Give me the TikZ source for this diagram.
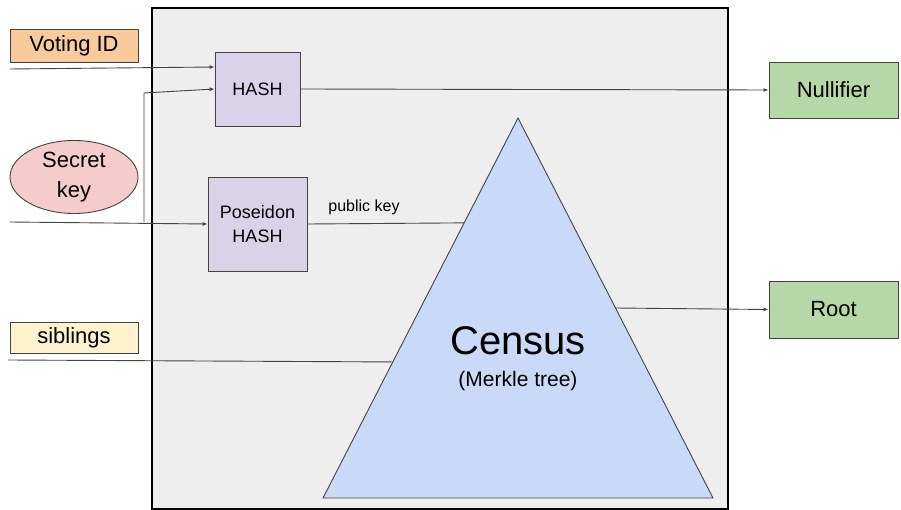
\documentclass[tikz,border=0pt]{standalone}
\usepackage{fontspec}
\setmainfont{Liberation Sans}
\usetikzlibrary{shapes.geometric,arrows.meta,calc}
\definecolor{panel}{HTML}{EEEEEE}
\definecolor{orangefill}{HTML}{F9CB9C}
\definecolor{pinkfill}{HTML}{F4CCCC}
\definecolor{yellowfill}{HTML}{FFF2CC}
\definecolor{violetfill}{HTML}{D9D2E9}
\definecolor{greenfill}{HTML}{B6D7A8}
\definecolor{bluefill}{HTML}{C9DAF8}
\definecolor{edge}{HTML}{434343}
\tikzset{
  box/.style={draw=edge, line width=0.9pt, inner sep=0pt, align=center, font=\fontsize{22}{30}\selectfont},
  hashbox/.style={box, fill=violetfill, font=\fontsize{18}{24}\selectfont},
  wire/.style={draw=edge, line width=0.9pt},
  arr/.style={wire, -{Latex[length=5pt,width=4pt]}}
}
\begin{document}
\begin{tikzpicture}[x=1pt,y=-1pt]
\useasboundingbox (0,0) rectangle (901,510);
% circuit panel
\draw[fill=panel, line width=1.8pt] (152,8) rectangle (728,509);

% inputs
\node[box, fill=orangefill, minimum width=128pt, minimum height=33pt] (vid) at (74,46) {Voting ID};
\node[box, fill=pinkfill, ellipse, minimum width=128pt, minimum height=73pt] (sk) at (74,177) {Secret\\key};
\node[box, fill=yellowfill, minimum width=128pt, minimum height=31pt] (sib) at (74,337.5) {siblings};

% hash blocks
\node[hashbox, minimum width=85pt, minimum height=74pt] (hash) at (257.5,89) {HASH};
\node[hashbox, minimum width=99pt, minimum height=94pt] (pos) at (257.5,224) {Poseidon\\HASH};

% outputs
\node[box, fill=greenfill, minimum width=129pt, minimum height=56pt] (null) at (833.5,90) {Nullifier};
\node[box, fill=greenfill, minimum width=129pt, minimum height=57pt] (root) at (833.5,309.5) {Root};

% census tree
\coordinate (apex) at (518,118);
\coordinate (bl) at (323,498);
\coordinate (br) at (713,498);
\draw[fill=bluefill, draw=edge, line width=0.9pt] (apex) -- (bl) -- (br) -- cycle;
\node[font=\fontsize{40}{44}\selectfont] (census) at (518,341) {Census};
\node[font=\fontsize{21}{24}\selectfont] (merkle) at (518,381) {(Merkle tree)};

% points where wires meet the tree
\coordinate (pkin) at ($(apex)!0.276!(bl)$);
\coordinate (sibin) at ($(apex)!0.642!(bl)$);
\coordinate (rootout) at ($(apex)!0.5!(br)$);

% free ends of the input wires
\coordinate (vidsrc) at (10,69);
\coordinate (sksrc) at (10,222);
\coordinate (sibsrc) at (8,360);
\coordinate (split) at (144,222);
\coordinate (bend) at (144,93);

% wires
\draw[arr] (vidsrc) -- ([yshift=22pt]hash.west);
\draw[arr] (sksrc) -- (pos.west);
\draw[arr] (split) -- (bend) -- (hash.west);
\draw[arr] (hash.east) -- (null.west);
\draw[wire] (pos.east) -- (pkin);
\node[font=\fontsize{16}{19}\selectfont] (pklabel) at (364,207) {public key};
\draw[wire] (sibsrc) -- (sibin);
\draw[arr] (rootout) -- (root.west);
\end{tikzpicture}
\end{document}
